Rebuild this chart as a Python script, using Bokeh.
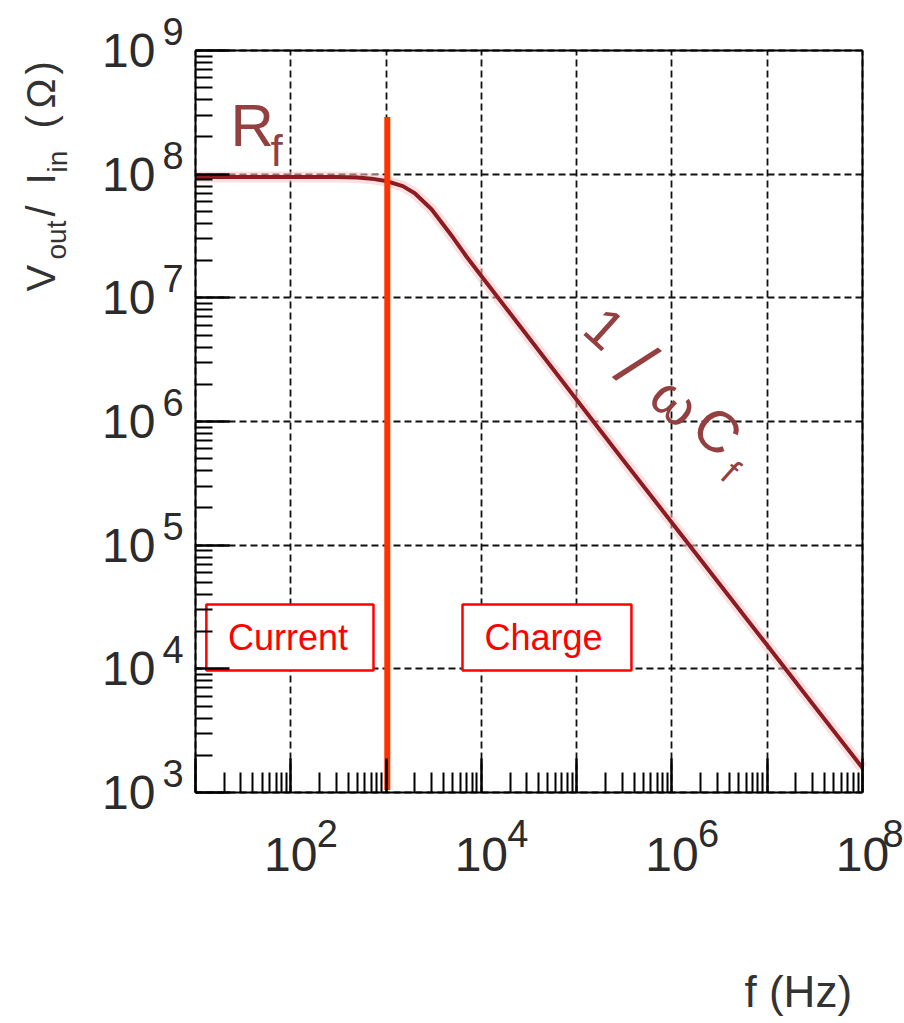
import math
from bokeh.plotting import figure
from bokeh.models import FixedTicker, Label, CustomJSTickFormatter, LogAxis
from bokeh.core.properties import value
from bokeh.embed import file_html
from bokeh.resources import INLINE

# ---- data ----
freq_hz = [10, 100, 300, 500, 700, 1e3, 1.5e3, 2e3, 3e3, 5e3, 7e3, 1e4, 2e4, 5e4,
           1e5, 3e5, 1e6, 3e6, 1e7, 3e7, 1e8]
gain_ohm = [9.5e7, 9.5e7, 9.48e7, 9.4e7, 9.2e7, 8.8e7, 8.0e7, 7.0e7, 5.2e7, 3.1e7,
            2.15e7, 1.5e7, 7.5e6, 3.0e6, 1.5e6, 5.0e5, 1.52e5, 5.1e4, 1.55e4, 5.2e3, 1.58e3]

boundary_freq = 1.03e3
boundary_low = 1.05e3
boundary_high = 2.9e8

region_names = ["Current", "Charge"]
region_left = [13.0, 6.34e3]
region_right = [738.0, 3.76e5]
region_bottom = [9.7e3, 9.7e3]
region_top = [3.32e4, 3.32e4]
region_text_x = [93.5, 4.49e4]
region_text_y = [1.8e4, 1.8e4]

x_decades = [1, 2, 3, 4, 5, 6, 7, 8]
y_decades = [3, 4, 5, 6, 7, 8, 9]
x_label_exps = ["2", "4", "6", "8"]
y_label_exps = ["3", "4", "5", "6", "7", "8", "9"]

# plot box (data) and where it sits on the page (pixels)
XMIN, XMAX = 10.0, 1e8
YMIN, YMAX = 1e3, 1e9
W, H = 904, 1023
FL, FT, FR, FB = 195, 50, 862, 792
DXP = (FR - FL) / 7.0   # pixels per decade in x
DYP = (FB - FT) / 6.0   # pixels per decade in y

x_rng = (10 ** (1 - FL / DXP), 10 ** (8 + (W - FR) / DXP))
y_rng = (10 ** (3 - (H - FB) / DYP), 10 ** (9 + FT / DYP))

p = figure(width=W, height=H, x_axis_type="log", y_axis_type="log",
           x_range=x_rng, y_range=y_rng,
           output_backend="svg", toolbar_location=None,
           min_border=0, min_border_left=0, min_border_right=0,
           min_border_top=0, min_border_bottom=0)
p.background_fill_color = "white"
p.border_fill_color = "white"
p.outline_line_color = None

xt = FixedTicker(ticks=[10.0 ** k for k in x_decades],
                 minor_ticks=[m * 10.0 ** k for k in x_decades[:-1] for m in range(2, 10)])
yt = FixedTicker(ticks=[10.0 ** k for k in y_decades],
                 minor_ticks=[m * 10.0 ** k for k in y_decades[:-1] for m in range(2, 10)])

xax = p.xaxis[0]
yax = p.yaxis[0]
xax.ticker = xt
yax.ticker = yt
xax.fixed_location = YMIN
yax.fixed_location = XMIN
xax.bounds = (XMIN, XMAX)
yax.bounds = (YMIN, YMAX)
xax.formatter = CustomJSTickFormatter(
    code="const e = Math.round(Math.log10(tick)); return (e % 2 == 0) ? '10' : '';")
yax.formatter = CustomJSTickFormatter(code="return '10';")

TICK_COL = "#2b2b2b"
for ax, maj, mino in ((xax, 34, 20), (yax, 34, 17)):
    ax.axis_line_color = "black"
    ax.axis_line_width = 2
    ax.major_tick_in = maj
    ax.major_tick_out = 0
    ax.minor_tick_in = mino
    ax.minor_tick_out = 0
    ax.major_tick_line_width = 2.5
    ax.minor_tick_line_width = 2
    ax.major_tick_line_color = "black"
    ax.minor_tick_line_color = "black"
    ax.major_label_text_font = "Liberation Sans"
    ax.major_label_text_font_size = "48px"
    ax.major_label_text_color = TICK_COL
xax.major_label_standoff = 45
yax.major_label_standoff = 40

# top and right edges of the plot box
blank = CustomJSTickFormatter(code="return '';")
top_ax = LogAxis(fixed_location=YMAX, bounds=(XMIN, XMAX), ticker=FixedTicker(ticks=[]),
                 formatter=blank, axis_line_width=2, axis_line_color="black",
                 major_tick_line_color=None, minor_tick_line_color=None)
right_ax = LogAxis(fixed_location=XMAX, bounds=(YMIN, YMAX), ticker=FixedTicker(ticks=[]),
                   formatter=blank, axis_line_width=2, axis_line_color="black",
                   major_tick_line_color=None, minor_tick_line_color=None)
p.add_layout(top_ax, "above")
p.add_layout(right_ax, "right")

p.xgrid.bounds = (XMIN, XMAX)
p.ygrid.bounds = (YMIN, YMAX)
p.xgrid.cross_bounds = (YMIN, YMAX)
p.ygrid.cross_bounds = (XMIN, XMAX)
for g in (p.xgrid, p.ygrid):
    g.grid_line_color = "#111111"
    g.grid_line_dash = "7 4"
    g.grid_line_width = 1.8

# response curve
p.line(freq_hz, gain_ohm, line_width=11, color="#f5c6c6", alpha=0.55)
p.line(freq_hz, gain_ohm, line_width=4, color="#8c1c22")

# region boxes
p.quad(left=region_left, right=region_right, bottom=region_bottom, top=region_top,
       fill_color="white", line_color="#ff0000", line_width=2.5)
p.text(x=region_text_x, y=region_text_y, text=region_names,
       text_font=value("Liberation Sans"), text_font_size="36px",
       text_color="#ff0000", text_align="center", text_baseline="middle")

# boundary line
p.segment(x0=[boundary_freq], y0=[boundary_low], x1=[boundary_freq], y1=[boundary_high],
          line_width=6, color="#ff3300")


def pix_label(text, px, py, size, color, align="left", angle=0.0):
    """Text whose vertical middle sits at page pixel (px, py)."""
    p.add_layout(Label(x=XMIN, y=YMAX, x_offset=px - FL, y_offset=FT - py, text=text,
                       text_font="Liberation Sans", text_font_size=f"{size}px",
                       text_color=color, text_align=align, text_baseline="middle",
                       angle=angle))


# exponents of the tick labels
for e, s in zip(y_decades, y_label_exps):
    ty = FT + (9 - e) * DYP
    pix_label(s, 162, ty - 19, 38, TICK_COL)
for s in x_label_exps:
    e = int(s)
    tx = FL + (e - 1) * DXP
    dx = 26 if e < 8 else 20
    pix_label(s, tx + dx, 833, 38, TICK_COL)

# axis titles
TITLE_COL = "#333333"
half_pi = math.pi / 2
for txt, ystart, cx, size in (("V", 291, 40, 40), ("out", 259, 56, 28), ("/", 216, 40, 40),
                              ("I", 184, 40, 40), ("in", 172, 57, 28), ("(", 128, 40, 40),
                              ("\u03a9", 108, 40, 40), (")", 74, 40, 40)):
    pix_label(txt, cx, ystart, size, TITLE_COL, angle=half_pi)
pix_label("f (Hz)", 744, 991, 44, TITLE_COL)

# curve annotations
ANN = "#944040"
pix_label("R", 230, 125, 60, ANN)
pix_label("f", 270, 150, 44, ANN)
rot = -math.radians(42)
for txt, cx, cy, size in (("1", 604, 328, 56), ("/", 636, 364, 72), ("\u03c9", 675, 401, 56),
                          ("C", 717, 430, 58), ("f", 730, 471, 36)):
    pix_label(txt, cx, cy, size, ANN, align="center", angle=rot)

open("out.html", "w").write(file_html(p, INLINE))
